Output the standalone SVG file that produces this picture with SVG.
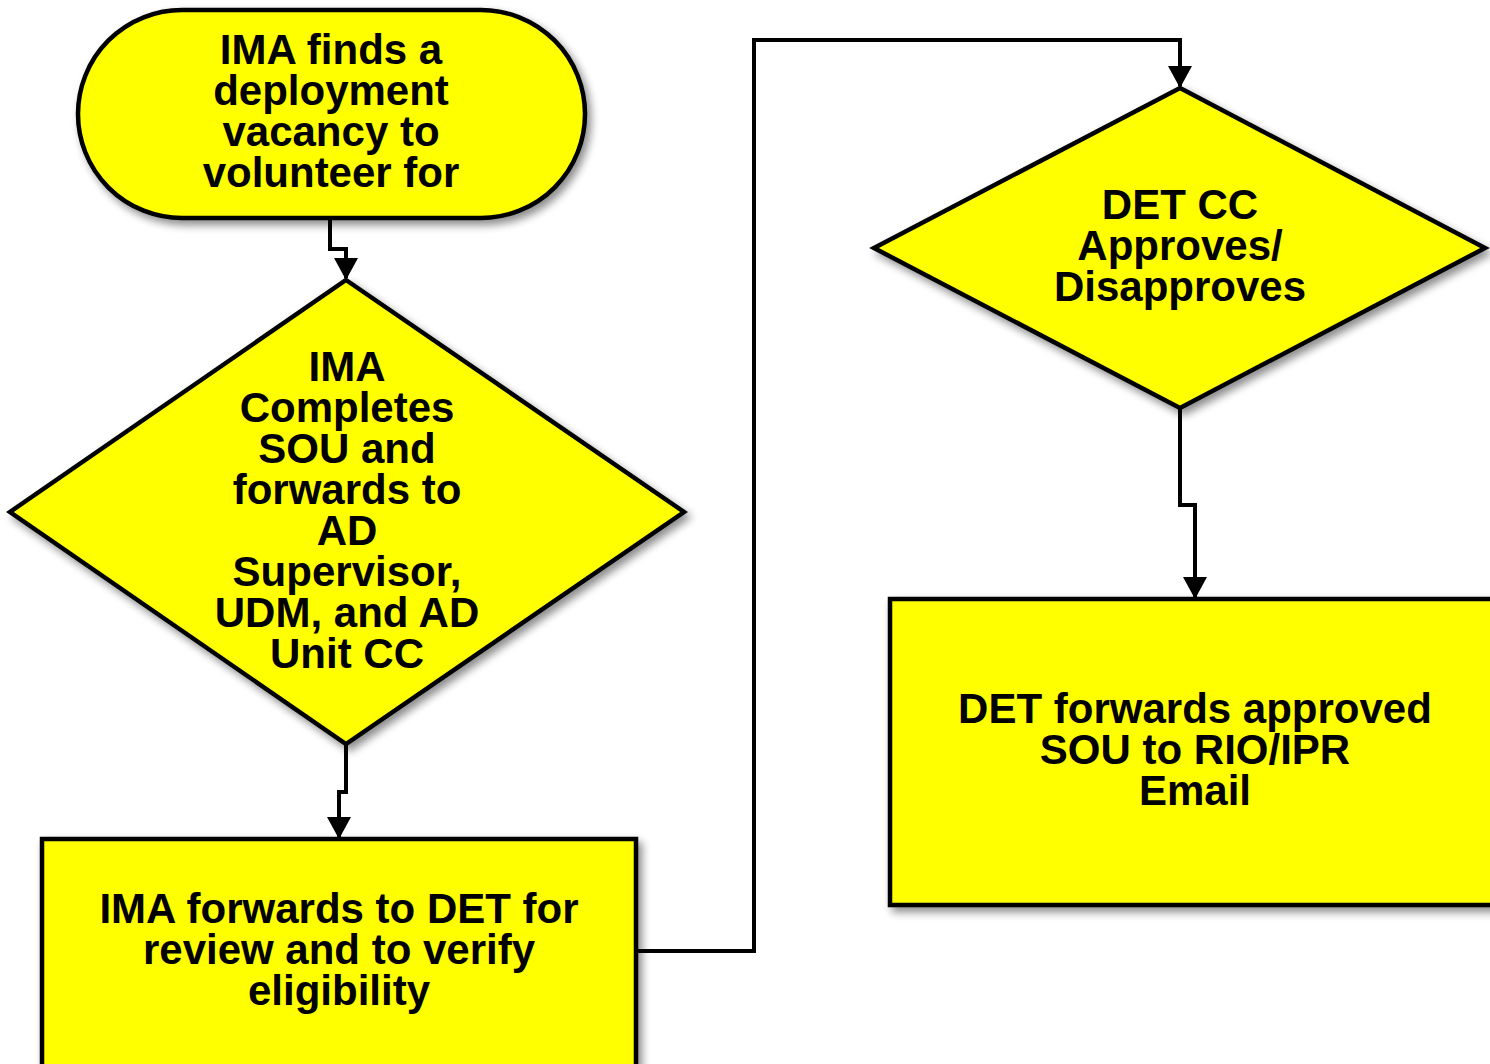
<svg xmlns="http://www.w3.org/2000/svg" width="1490" height="1064" viewBox="0 0 1490 1064">
<defs>
<filter id="sh" x="-10%" y="-10%" width="130%" height="130%">
<feGaussianBlur in="SourceAlpha" stdDeviation="4"/>
<feOffset dx="4" dy="5" result="b"/>
<feComponentTransfer><feFuncA type="linear" slope="0.45"/></feComponentTransfer>
<feMerge><feMergeNode/><feMergeNode in="SourceGraphic"/></feMerge>
</filter>
<marker id="arr" markerWidth="6" markerHeight="6" refX="5" refY="3" orient="auto" markerUnits="strokeWidth">
<path d="M0,0 L5.5,3 L0,6 z" fill="#000"/>
</marker>
<style>
.shape{fill:#ffff00;stroke:#000;stroke-width:4.5;filter:url(#sh)}
.lbl{font-family:"Liberation Sans",Arial,sans-serif;font-weight:bold;font-size:42px;fill:#000;text-anchor:middle}
.conn{fill:none;stroke:#000;stroke-width:4;marker-end:url(#arr)}
</style>
</defs>
<g id="connectors">
<path class="conn" d="M330,218 V249 H346 V278"/>
<path class="conn" d="M346,744 V792 H339 V837"/>
<path class="conn" d="M636,951 H754 V40 H1180 V86"/>
<path class="conn" d="M1180,408 V505 H1195 V597"/>
</g>
<g id="n1">
<rect class="shape" x="78" y="10" width="507" height="208" rx="104" ry="104"/>
<text class="lbl"><tspan x="331" y="64">IMA finds a</tspan><tspan x="331" y="105">deployment</tspan><tspan x="331" y="146">vacancy to</tspan><tspan x="331" y="187">volunteer for</tspan></text>
</g>
<g id="n2">
<polygon class="shape" points="346,280 684,512 346,744 10,512"/>
<text class="lbl"><tspan x="347" y="381">IMA</tspan><tspan x="347" y="422">Completes</tspan><tspan x="347" y="463">SOU and</tspan><tspan x="347" y="504">forwards to</tspan><tspan x="347" y="545">AD</tspan><tspan x="347" y="586">Supervisor,</tspan><tspan x="347" y="627">UDM, and AD</tspan><tspan x="347" y="668">Unit CC</tspan></text>
</g>
<g id="n3">
<rect class="shape" x="42" y="839" width="594" height="240"/>
<text class="lbl"><tspan x="339" y="923">IMA forwards to DET for</tspan><tspan x="339" y="964">review and to verify</tspan><tspan x="339" y="1005">eligibility</tspan></text>
</g>
<g id="n4">
<polygon class="shape" points="1180,88 1485,248 1180,408 874,248"/>
<text class="lbl"><tspan x="1180" y="219">DET CC</tspan><tspan x="1180" y="260">Approves/</tspan><tspan x="1180" y="301">Disapproves</tspan></text>
</g>
<g id="n5">
<rect class="shape" x="890" y="599" width="620" height="306"/>
<text class="lbl"><tspan x="1195" y="723">DET forwards approved</tspan><tspan x="1195" y="764">SOU to RIO/IPR</tspan><tspan x="1195" y="805">Email</tspan></text>
</g>
</svg>
